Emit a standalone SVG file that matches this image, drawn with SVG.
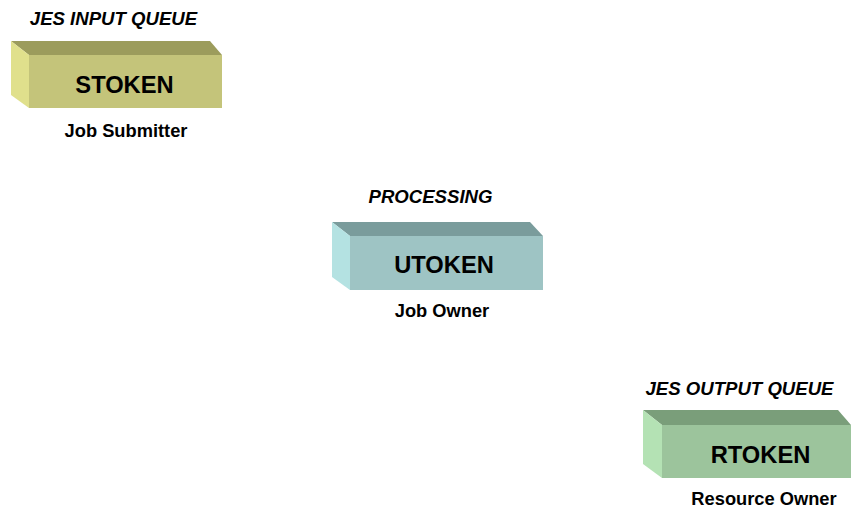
<svg xmlns="http://www.w3.org/2000/svg" width="852" height="508" viewBox="0 0 852 508">
<style>
text{font-family:"Liberation Sans",Arial,sans-serif;font-weight:bold;fill:#000}
.t{font-size:18.6px;font-style:italic}
.n{font-size:23.7px}
.l{font-size:18.3px}
</style>
<rect width="852" height="508" fill="#fff"/>
<g id="stoken">
<polygon points="11,41 210,41 222,55 29,55" fill="#9c9c5c"/>
<polygon points="11,41 29,55 29,108 11,95" fill="#e0e08c"/>
<rect x="29" y="55" width="193" height="53" fill="#c4c47a"/>
<text class="t" x="113.5" y="25" text-anchor="middle">JES INPUT QUEUE</text>
<text class="n" x="124.5" y="93" text-anchor="middle">STOKEN</text>
<text class="l" x="126" y="137" text-anchor="middle">Job Submitter</text>
</g>
<g id="utoken">
<polygon points="332,222 530,222 543,236 350,236" fill="#7a9c9c"/>
<polygon points="332,222 350,236 350,290 332,277" fill="#b4e2e2"/>
<rect x="350" y="236" width="193" height="54" fill="#9ec4c4"/>
<text class="t" x="430.5" y="203" text-anchor="middle">PROCESSING</text>
<text class="n" x="444" y="273" text-anchor="middle">UTOKEN</text>
<text class="l" x="442" y="317" text-anchor="middle">Job Owner</text>
</g>
<g id="rtoken">
<polygon points="643,410 838,410 851,425 662,425" fill="#7a9e7a"/>
<polygon points="643,410 662,425 662,478 643,464" fill="#b4e2b4"/>
<rect x="662" y="425" width="189" height="53" fill="#9cc49c"/>
<text class="t" x="739.5" y="395" text-anchor="middle">JES OUTPUT QUEUE</text>
<text class="n" x="760.5" y="463" text-anchor="middle">RTOKEN</text>
<text class="l" x="764" y="505" text-anchor="middle">Resource Owner</text>
</g>
<g id="connectors"/>
</svg>
